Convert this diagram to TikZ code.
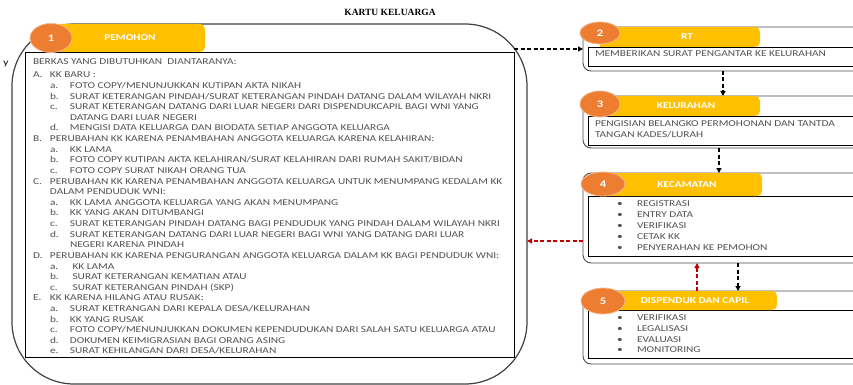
\documentclass[tikz,border=0pt]{standalone}
\usepackage{fontspec}
\setmainfont{Carlito}
\newfontfamily\isifont[FakeStretch=1.26]{Carlito}
\newfontfamily\judulfont{Liberation Serif}
\usetikzlibrary{arrows.meta,shapes.geometric}

\definecolor{kuning}{HTML}{FFC000}
\definecolor{oranye}{HTML}{ED7D31}
\definecolor{merah}{HTML}{C00000}

\begin{document}
\begin{tikzpicture}[x=1pt, y=-1pt,
    every node/.style={inner sep=0pt, outer sep=0pt},
    luar/.style={draw=black!75, fill=white, line width=1.2pt, rounded corners=62pt},
    kotak/.style={draw=black!70, fill=white, line width=0.9pt, rounded corners=8pt},
    isian/.style={draw=black, line width=0.9pt},
    bulat/.style={ellipse, fill=oranye, draw=oranye!55!white, line width=0.8pt,
      text=white, font=\isifont\bfseries\fontsize{10}{10}\selectfont},
    judul/.style={text=white, font=\isifont\bfseries\fontsize{9}{9}\selectfont},
    baris/.style={anchor=base west, text=black!68, font=\isifont\fontsize{9}{9}\selectfont},
    panah/.style={-{Triangle[length=5pt, width=5pt]}, line width=1.4pt, dash pattern=on 4pt off 2.5pt},
  ]
  \useasboundingbox (0,0) rectangle (853,385);
  \clip (0,0) rectangle (853,385);

  %% Title
  \node[font=\judulfont\bfseries\fontsize{9.5}{9.5}\selectfont] (judulKK) at (390,12) {KARTU KELUARGA};

  %% Left: pemohon with list of documents
  \node[luar, minimum width=515, minimum height=360] (pemohon) at (269.5,204) {};
  \node[isian, minimum width=489, minimum height=305] (pemohonIsi) at (269.5,204.5) {};
  \fill[kuning] (60,52) -- (60,24) [rounded corners=5pt] -- (205,24) -- (205,52) [sharp corners] -- cycle;
  \node[bulat, minimum width=42, minimum height=29] (no1) at (51,38) {1};
  \node[judul] (hPemohon) at (130,38) {PEMOHON};
  \node[font=\isifont\fontsize{9}{9}\selectfont] (tanda) at (6,64) {y};

  \node[baris] (berkas) at (33,64.8) {BERKAS YANG DIBUTUHKAN\ \ DIANTARANYA:};
  \foreach \i/\lbl/\isi in {1/A./{KK BARU :},
      7/B./{PERUBAHAN KK KARENA PENAMBAHAN ANGGOTA KELUARGA KARENA KELAHIRAN:},
      11/C./{PERUBAHAN KK KARENA PENAMBAHAN ANGGOTA KELUARGA UNTUK MENUMPANG KEDALAM KK},
      12//{DALAM PENDUDUK WNI:},
      18/D./{PERUBAHAN KK KARENA PENGURANGAN ANGGOTA KELUARGA DALAM KK BAGI PENDUDUK WNI:},
      22/E./{KK KARENA HILANG ATAU RUSAK:}}
    \node[baris] (induk\i) at (33,{67.23+\i*10.62}) {\makebox[17pt][l]{\lbl}\isi};
  \foreach \i/\lbl/\isi in {2/a./{FOTO COPY/MENUNJUKKAN KUTIPAN AKTA NIKAH},
      3/b./{SURAT KETERANGAN PINDAH/SURAT KETERANGAN PINDAH DATANG DALAM WILAYAH NKRI},
      4/c./{SURAT KETERANGAN DATANG DARI LUAR NEGERI DARI DISPENDUKCAPIL BAGI WNI YANG},
      5//{DATANG DARI LUAR NEGERI},
      6/d./{MENGISI DATA KELUARGA DAN BIODATA SETIAP ANGGOTA KELUARGA},
      8/a./{KK LAMA},
      9/b./{FOTO COPY KUTIPAN AKTA KELAHIRAN/SURAT KELAHIRAN DARI RUMAH SAKIT/BIDAN},
      10/c./{FOTO COPY SURAT NIKAH ORANG TUA},
      13/a./{KK LAMA ANGGOTA KELUARGA YANG AKAN MENUMPANG},
      14/b./{KK YANG AKAN DITUMBANGI},
      15/c./{SURAT KETERANGAN PINDAH DATANG BAGI PENDUDUK YANG PINDAH DALAM WILAYAH NKRI},
      16/d./{SURAT KETERANGAN DATANG DARI LUAR NEGERI BAGI WNI YANG DATANG DARI LUAR},
      17//{NEGERI KARENA PINDAH},
      19/a./{\ KK LAMA},
      20/b./{\ SURAT KETERANGAN KEMATIAN ATAU},
      21/c./{\ SURAT KETERANGAN PINDAH (SKP)},
      23/a./{SURAT KETRANGAN DARI KEPALA DESA/KELURAHAN},
      24/b./{KK YANG RUSAK},
      25/c./{FOTO COPY/MENUNJUKKAN DOKUMEN KEPENDUDUKAN DARI SALAH SATU KELUARGA ATAU},
      26/d./{DOKUMEN KEIMIGRASIAN BAGI ORANG ASING},
      27/e./{SURAT KEHILANGAN DARI DESA/KELURAHAN}}
    \node[baris] (anak\i) at (50,{67.23+\i*10.62}) {\makebox[20pt][l]{\lbl}\isi};

  %% Right: 2 RT
  \node[kotak, minimum width=280, minimum height=44] (rt) at (723,49) {};
  \node[isian, minimum width=275, minimum height=19] (rtIsi) at (725.5,56.5) {};
  \fill[kuning] (600,47) -- (600,27) [rounded corners=5pt] -- (760,27) -- (760,47) [sharp corners] -- cycle;
  \node[bulat, minimum width=40, minimum height=22] (no2) at (600,33) {2};
  \node[judul] (hRt) at (687,37) {RT};
  \node[baris] (rt1) at (595,56.9) {MEMBERIKAN SURAT PENGANTAR KE KELURAHAN};

  %% Right: 3 Kelurahan
  \node[kotak, minimum width=280, minimum height=52] (kel) at (723,122) {};
  \node[isian, minimum width=275, minimum height=29] (kelIsi) at (725.5,130.5) {};
  \fill[kuning] (600,116) -- (600,96) [rounded corners=5pt] -- (760,96) -- (760,116) [sharp corners] -- cycle;
  \node[bulat, minimum width=40, minimum height=26] (no3) at (600,104) {3};
  \node[judul] (hKel) at (686,106) {KELURAHAN};
  \node[baris] (kel1) at (595,126.9) {PENGISIAN BELANGKO PERMOHONAN DAN TANTDA};
  \node[baris] (kel2) at (595,137.9) {TANGAN KADES/LURAH};

  %% Right: 4 Kecamatan
  \node[kotak, minimum width=280, minimum height=90] (kec) at (723,218) {};
  \node[isian, minimum width=275, minimum height=60] (kecIsi) at (725.5,226) {};
  \fill[kuning] (600,196) -- (600,173) [rounded corners=5pt] -- (762,173) -- (762,196) [sharp corners] -- cycle;
  \node[bulat, minimum width=44, minimum height=24] (no4) at (603,184) {4};
  \node[judul] (hKec) at (687,184.5) {KECAMATAN};
  \foreach \isi [count=\k from 0] in {REGISTRASI, ENTRY DATA, VERIFIKASI, CETAK KK, PENYERAHAN KE PEMOHON}
    \node[baris] (kec\k) at (617,{206.4+\k*10.9}) {\makebox[20pt][l]{\textbullet}\isi};

  %% Right: 5 Dispenduk dan Capil
  \node[kotak, minimum width=280, minimum height=73] (disp) at (723,327.5) {};
  \node[isian, minimum width=275, minimum height=48] (dispIsi) at (725.5,334) {};
  \fill[kuning] (600,310) -- (600,291) [rounded corners=5pt] -- (777,291) -- (777,310) [sharp corners] -- cycle;
  \node[bulat, minimum width=44, minimum height=26] (no5) at (603,301) {5};
  \node[judul] (hDisp) at (695,301) {DISPENDUK DAN CAPIL};
  \foreach \isi [count=\k from 0] in {VERIFIKASI, LEGALISASI, EVALUASI, MONITORING}
    \node[baris] (disp\k) at (617,{320.9+\k*10.6}) {\makebox[20pt][l]{\textbullet}\isi};

  %% Connectors
  \draw[panah] (pemohonIsi.north east |- rt.west) -- (rt.west);
  \draw[panah] (rt.south) -- (kel.north);
  \draw[panah] ([xshift=-4pt]kel.south) -- ([xshift=-4pt]kec.north);
  \draw[panah] ([xshift=15pt]kec.south) -- ([xshift=15pt]disp.north);
  \draw[panah, merah] ([xshift=-26pt]disp.north) -- ([xshift=-26pt]kec.south);
  \coordinate (kecOut) at ([yshift=-23pt]kec.west);
  \draw[panah, merah] (kecOut) -- (kecOut -| pemohon.east);

\end{tikzpicture}
\end{document}
